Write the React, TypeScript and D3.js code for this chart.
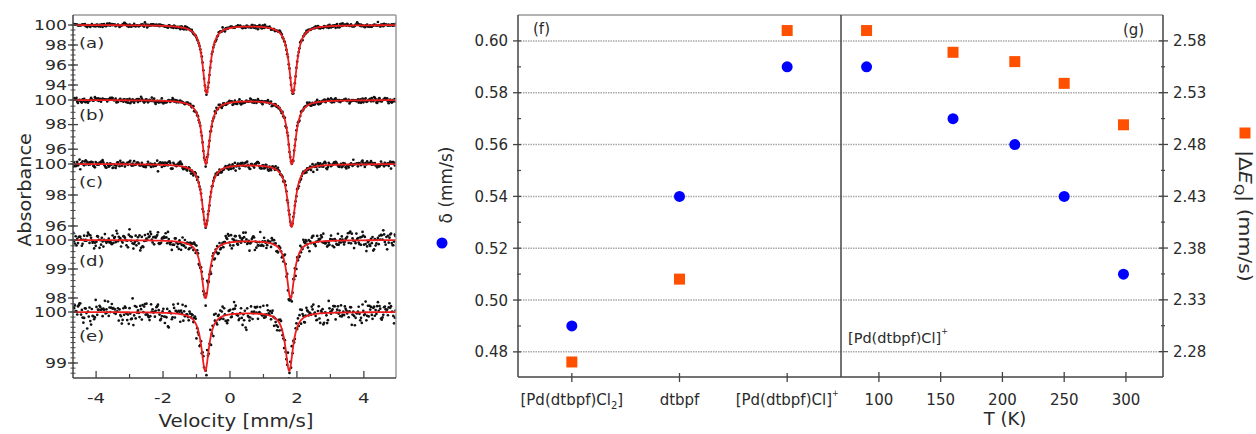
import React from 'react';
import * as d3 from 'd3';

// ---- left panel: Mossbauer spectra (a)-(e) ----
const velTicks = [-4, -2, 0, 2, 4];
const velMinor = [-3, -1, 1, 3];
const specNames = ['(a)', '(b)', '(c)', '(d)', '(e)'];
const specC1 = [-0.7, -0.72, -0.72, -0.73, -0.74];
const specC2 = [1.88, 1.85, 1.84, 1.81, 1.77];
const specDepth = [6.8, 5.2, 4.05, 2.0, 1.15];
const specHwhm = [0.14, 0.14, 0.14, 0.14, 0.14];
const specNoise = [0.11, 0.12, 0.13, 0.16, 0.12];
const specTicks = [
  [100, 98, 96, 94],
  [100, 98, 96],
  [100, 98, 96],
  [100, 99, 98],
  [100, 99]
];
const specMinorStep = [0.5, 0.5, 0.5, 0.2, 0.1];
const specMinorLow = [93.5, 95, 95.5, 97.8, 98.8];
// hand-typed scatter pattern for the measured channels (in units of the noise level)
const resid = [
  0.3, -1.1, 0.8, 0.1, -0.4, 1.6, -0.9, 0.2, -1.7, 0.6, 1.1, -0.2, -0.6, 0.9, -1.3, 0.4, 0.0, 1.4, -0.8,
  -0.3, 0.7, -1.5, 1.0, 0.2, -0.1, -0.7, 1.8, -1.0, 0.5, 0.3, -2.0, 0.9, -0.4, 1.2, -0.6, 0.1, -1.2, 0.6,
  1.5, -0.5, 0.2, -0.9, 0.4, -1.6, 1.3, 0.0, -0.3, 0.8, -1.1, 0.7, 2.1, -0.8, -0.2, 0.5, -1.4, 1.0, 0.3,
  -0.6, -1.9, 1.1, 0.6, -0.1, -0.9, 1.7, -0.4, 0.2, -1.3, 0.8, 0.1, -0.7, 1.4, -1.0, 0.5, -0.2, -1.5, 0.9,
  0.3, 1.2, -0.5, -1.8, 0.6, 0.0, -0.8, 1.6, -0.3, 0.4, -1.2, 1.0, -0.6, 0.7, -2.2, 1.3, 0.2, -0.4, 0.9,
  -1.0, 0.5, -0.1, 1.9, -0.7, 0.4
];

// ---- right panels: delta and |dEQ| ----
const categories = ['[Pd(dtbpf)Cl2]', 'dtbpf', '[Pd(dtbpf)Cl]+'];
const deltaCmp = [0.49, 0.54, 0.59];
const eqCmp = [2.27, 2.35, 2.59];
const temps = [90, 160, 210, 250, 298];
const deltaT = [0.59, 0.57, 0.56, 0.54, 0.51];
const eqT = [2.59, 2.569, 2.56, 2.539, 2.499];
const deltaTicks = [0.48, 0.5, 0.52, 0.54, 0.56, 0.58, 0.6];
const deltaMinor = [0.49, 0.51, 0.53, 0.55, 0.57, 0.59];
const eqTicks = [2.28, 2.33, 2.38, 2.43, 2.48, 2.53, 2.58];
const eqMinor = [2.305, 2.355, 2.405, 2.455, 2.505, 2.555];
const tTicks = [100, 150, 200, 250, 300];

// layout
const W = 1256;
const H = 434;
const L = { x0: 73, x1: 396, y0: 15, y1: 378 };
const specTop = [25, 100, 164, 240, 312];
const specPx = [10, 12.3, 15.5, 29, 51];
const labelY = [48, 120, 187, 266, 341];
const R = { x0: 518, mid: 841, x1: 1163, y0: 15, y1: 377 };
const BLUE = '#0000ff';
const ORANGE = '#ff5000';
const DARK = '#444';
const LIGHT = '#9a9a9a';
const FONT = 'DejaVu Sans, Verdana, sans-serif';

function SText({ x, y, sx = 1, rot = 0, anchor = 'start', size = 14, children }: any) {
  return (
    <g transform={`translate(${x},${y}) rotate(${rot}) scale(${sx},1)`}>
      <text textAnchor={anchor} fontSize={size} fontFamily={FONT} fill="#2a2a2a">
        {children}
      </text>
    </g>
  );
}

function Chem({ s }: { s: string }) {
  if (s.endsWith('2]')) {
    return (
      <>
        {s.slice(0, -2)}
        <tspan dy={4} fontSize={10}>2</tspan>
        <tspan dy={-4}>]</tspan>
      </>
    );
  }
  if (s.endsWith('+')) {
    return (
      <>
        {s.slice(0, -1)}
        <tspan dy={-9} fontSize={8}>+</tspan>
      </>
    );
  }
  return <>{s}</>;
}

function fit(v: number, i: number) {
  const h = specHwhm[i];
  const a = 1 / (1 + ((v - specC1[i]) / h) ** 2);
  const b = 1 / (1 + ((v - specC2[i]) / h) ** 2);
  return 100 - specDepth[i] * (a + b);
}

export default function App() {
  const xVel = d3.scaleLinear().domain([-4.69, 4.96]).range([L.x0, L.x1]);
  const yS = specTop.map((t, i) => d3.scaleLinear().domain([100, 90]).range([t, t + 10 * specPx[i]]));
  const nCh = 420;
  const [v0, v1] = xVel.domain();
  const channels = d3.range(nCh).map(j => v0 + ((j + 0.5) * (v1 - v0)) / nCh);
  const fine = d3.range(1201).map(j => v0 + (j * (v1 - v0)) / 1200);
  const n = resid.length;

  const xCat = d3.scalePoint<string>().domain(categories).range([R.x0, R.mid]).padding(0.5);
  const xT = d3.scaleLinear().domain([69.3, 330]).range([R.mid, R.x1]);
  const yD = d3.scaleLinear().domain([0.4703, 0.61]).range([R.y1, R.y0]);
  const yQ = d3.scaleLinear().domain([2.2555, 2.605]).range([R.y1, R.y0]);

  return (
    <div style={{ position: 'absolute', left: 0, top: 0 }}>
      <svg width={W} height={H} style={{ display: 'block', background: '#fff' }}>
        <defs>
          <clipPath id="lclip">
            <rect x={L.x0} y={L.y0} width={L.x1 - L.x0} height={L.y1 - L.y0} />
          </clipPath>
        </defs>

        {/* ---------- left panel ---------- */}
        <g clipPath="url(#lclip)">
          {specNames.map((_, i) => {
            const y = yS[i];
            const line = d3.line<number>().x(v => xVel(v)).y(v => y(fit(v, i)));
            return (
              <g key={i}>
                {channels.map((v, j) => {
                  const r =
                    0.7 * resid[(j * 13 + i * 37) % n] +
                    0.5 * resid[(j * 7 + i * 11 + 5) % n] +
                    0.35 * resid[(Math.floor(j / n) * 29 + j * 3 + i) % n];
                  return <circle key={j} cx={xVel(v)} cy={y(fit(v, i) + r * specNoise[i])} r={1.35} fill="#111" />;
                })}
                <path d={line(fine) || ''} fill="none" stroke="#ee1c1c" strokeWidth={1.8} />
              </g>
            );
          })}
        </g>
        <line x1={L.x0} x2={L.x1} y1={L.y0} y2={L.y0} stroke={LIGHT} strokeWidth={1.5} />
        <line x1={L.x1} x2={L.x1} y1={L.y0} y2={L.y1} stroke={LIGHT} strokeWidth={1.5} />
        <line x1={L.x0} x2={L.x0} y1={L.y0} y2={L.y1} stroke={DARK} strokeWidth={1.5} />
        <line x1={L.x0} x2={L.x1} y1={L.y1} y2={L.y1} stroke={DARK} strokeWidth={1.5} />
        {velTicks.map(t => (
          <g key={t}>
            <line x1={xVel(t)} x2={xVel(t)} y1={L.y1} y2={L.y1 - 7} stroke={DARK} strokeWidth={1.3} />
            <SText x={xVel(t)} y={403} anchor="middle" size={14.5} sx={1.25}>
              {t < 0 ? '-' + Math.abs(t) : t}
            </SText>
          </g>
        ))}
        {velMinor.map(t => (
          <line key={t} x1={xVel(t)} x2={xVel(t)} y1={L.y1} y2={L.y1 - 4} stroke={DARK} strokeWidth={1.2} />
        ))}
        {specNames.map((name, i) => (
          <g key={name}>
            {d3.range(100, specMinorLow[i] - 1e-6, -specMinorStep[i]).map(t => (
              <line key={t} x1={L.x0 - 2.5} x2={L.x0 + 2.5} y1={yS[i](t)} y2={yS[i](t)} stroke={DARK} strokeWidth={1} />
            ))}
            {specTicks[i].map(t => (
              <g key={t}>
                <line x1={L.x0 - 5} x2={L.x0 + 5} y1={yS[i](t)} y2={yS[i](t)} stroke={DARK} strokeWidth={1.3} />
                <SText x={67} y={yS[i](t) + 4.8} anchor="end" size={13.5} sx={1.28}>
                  {t}
                </SText>
              </g>
            ))}
            <SText x={79} y={labelY[i]} size={14.5} sx={1.25}>
              {name}
            </SText>
          </g>
        ))}
        <SText x={236} y={427} anchor="middle" size={18} sx={1.1}>
          Velocity [mm/s]
        </SText>
        <SText x={31} y={190} anchor="middle" size={18} rot={-90} sx={1.07}>
          Absorbance
        </SText>

        {/* ---------- right panels ---------- */}
        {deltaTicks.map(t => (
          <line key={t} x1={R.x0} x2={R.x1} y1={yD(t)} y2={yD(t)} stroke="#a8a8a8" strokeWidth={1.5} strokeDasharray="1.5,1" />
        ))}
        <line x1={R.x0} x2={R.x1} y1={R.y0} y2={R.y0} stroke={LIGHT} strokeWidth={1.5} />
        <line x1={R.x0} x2={R.x1} y1={R.y1} y2={R.y1} stroke={DARK} strokeWidth={1.5} />
        <line x1={R.x0} x2={R.x0} y1={R.y0} y2={R.y1} stroke={DARK} strokeWidth={1.5} />
        <line x1={R.mid} x2={R.mid} y1={R.y0} y2={R.y1} stroke={DARK} strokeWidth={1.5} />
        <line x1={R.x1} x2={R.x1} y1={R.y0} y2={R.y1} stroke={DARK} strokeWidth={1.5} />

        {deltaTicks.map(t => (
          <g key={t}>
            <line x1={R.x0 - 5} x2={R.x0 + 3} y1={yD(t)} y2={yD(t)} stroke={DARK} strokeWidth={1.3} />
            <SText x={508} y={yD(t) + 5.5} anchor="end" size={15}>
              {t.toFixed(2)}
            </SText>
          </g>
        ))}
        {deltaMinor.map(t => (
          <line key={t} x1={R.x0 - 1} x2={R.x0 + 3} y1={yD(t)} y2={yD(t)} stroke={DARK} strokeWidth={1.2} />
        ))}
        {eqTicks.map(t => (
          <g key={t}>
            <line x1={R.x1 - 4} x2={R.x1 + 5} y1={yQ(t)} y2={yQ(t)} stroke={DARK} strokeWidth={1.3} />
            <SText x={1173} y={yQ(t) + 5.5} size={15}>
              {t.toFixed(2)}
            </SText>
          </g>
        ))}
        {eqMinor.map(t => (
          <line key={t} x1={R.x1 - 2} x2={R.x1 + 2} y1={yQ(t)} y2={yQ(t)} stroke={DARK} strokeWidth={1.2} />
        ))}
        {categories.map(c => (
          <g key={c}>
            <line x1={xCat(c)} x2={xCat(c)} y1={R.y1 - 4} y2={R.y1 + 5} stroke={DARK} strokeWidth={1.3} />
            <SText x={xCat(c)} y={405} anchor="middle" size={15}>
              <Chem s={c} />
            </SText>
          </g>
        ))}
        {tTicks.map(t => (
          <g key={t}>
            <line x1={xT(t)} x2={xT(t)} y1={R.y1 - 5} y2={R.y1 + 5} stroke={DARK} strokeWidth={1.3} />
            <SText x={xT(t)} y={405} anchor="middle" size={15}>
              {t}
            </SText>
          </g>
        ))}

        {categories.map((c, i) => (
          <g key={c}>
            <rect x={(xCat(c) as number) - 5.5} y={yQ(eqCmp[i]) - 5.5} width={11} height={11} fill={ORANGE} />
            <circle cx={xCat(c)} cy={yD(deltaCmp[i])} r={5.5} fill={BLUE} />
          </g>
        ))}
        {temps.map((t, i) => (
          <g key={t}>
            <rect x={xT(t) - 5.5} y={yQ(eqT[i]) - 5.5} width={11} height={11} fill={ORANGE} />
            <circle cx={xT(t)} cy={yD(deltaT[i])} r={5.5} fill={BLUE} />
          </g>
        ))}

        <SText x={533} y={34} size={15}>(f)</SText>
        <SText x={1123} y={35} size={15}>(g)</SText>
        <SText x={848} y={343} size={14.5}>
          <Chem s="[Pd(dtbpf)Cl]+" />
        </SText>
        <SText x={1005} y={425} anchor="middle" size={18}>
          T (K)
        </SText>

        <circle cx={442} cy={243} r={5.5} fill={BLUE} />
        <SText x={452} y={185} anchor="middle" size={17} rot={-90}>
          δ (mm/s)
        </SText>
        <rect x={1239.5} y={127.5} width={11} height={11} fill={ORANGE} />
        <SText x={1239} y={216} anchor="middle" size={17} rot={90} sx={1.2}>
          |Δ<tspan fontStyle="italic">E</tspan>
          <tspan dy={4} fontSize={12}>Q</tspan>
          <tspan dy={-4}>| (mm/s)</tspan>
        </SText>
      </svg>
    </div>
  );
}
